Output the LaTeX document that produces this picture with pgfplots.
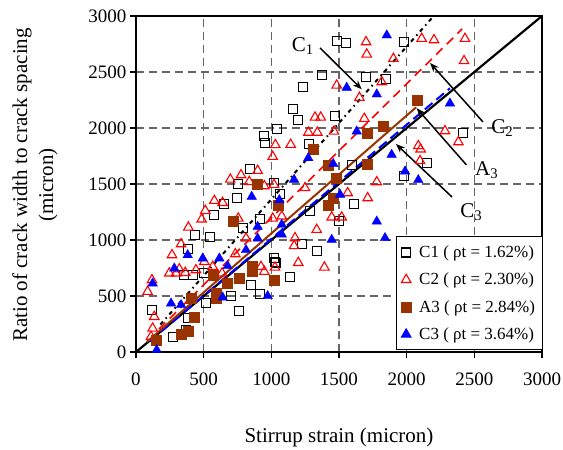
\documentclass[border=0pt]{standalone}
\usepackage{fontspec}
\setmainfont{Liberation Serif}
\usepackage{pgfplots}
\pgfplotsset{compat=1.18}
\usetikzlibrary{arrows.meta}
\definecolor{brn}{RGB}{153,51,0}
\begin{document}
\begin{tikzpicture}
\begin{axis}[
  scale only axis, width=406pt, height=336pt,
  xmin=0, xmax=3000, ymin=0, ymax=3000,
  xtick={0,500,...,3000}, ytick={0,500,...,3000},
  /pgf/number format/assume math mode=true,
  /pgf/number format/1000 sep={},
  tick label style={font=\fontsize{19}{22}\selectfont},
  xticklabel style={yshift=-11pt},
  tick align=outside, major tick length=6pt,
  tick style={black, line width=1.2pt},
  tick pos=left,
  grid=major,
  major grid style={black!60, line width=1.4pt, dash pattern=on 8pt off 5pt},
  axis line style={black, line width=1.3pt},
  xlabel={Stirrup strain (micron)},
  ylabel={Ratio of crack width to crack spacing\\(micron)},
  label style={font=\fontsize{21}{26}\selectfont},
  xlabel style={at={(axis description cs:0.5,-0.253)}, anchor=center},
  ylabel style={at={(axis description cs:-0.249,0.497)}, anchor=center, align=center},
  legend style={at={(1,0)}, anchor=south east, xshift=0.5pt, yshift=1.5pt,
    draw=black, line width=1pt, fill=white,
    font=\fontsize{17}{19}\selectfont, row sep=10pt, inner xsep=5pt, inner ysep=7pt,
    /tikz/every odd column/.append style={column sep=6pt}},
  legend cell align=left,
]
\addplot[only marks, mark=square, mark size=4.5pt, black, mark options={line width=1.1pt}] coordinates {
(382,917)(116,375)(271,137)(357,688)(419,688)(517,440)(387,301)(370,196)(505,708)(850,598)(702,500)(764,366)(916,515)(1022,837)(1035,792)(944,1929)(956,1869)(845,1634)(756,1500)(746,1372)(653,1321)(574,1223)(438,1042)(549,1030)(1022,1506)(916,1185)(788,1104)(1483,2777)(1552,2756)(1983,2768)(1372,2470)(1236,2369)(1700,2458)(1848,2434)(1162,2167)(1199,2072)(1471,2107)(1040,1994)(1281,1857)(1594,1673)(1064,1411)(1286,1256)(1613,1322)(1502,1173)(1983,1569)(1229,964)(1335,905)(1027,806)(1138,667)(2419,1953)(2148,1690)
};
\addlegendentry{C1 ( ρt = 1.62\%)}
\addplot[only marks, mark=triangle, mark size=5.5pt, red, mark options={line width=1.1pt}] coordinates {
(1030,1849)(1010,1744)(899,1619)(776,1580)(697,1541)(837,1520)(948,1482)(579,1351)(640,1333)(512,1262)(485,1185)(387,1113)(333,964)(756,1193)(813,1015)(1010,1193)(266,866)(246,703)(296,703)(364,708)(443,732)(505,806)(567,762)(636,703)(118,643)(86,539)(135,315)(123,211)(111,137)(924,762)(948,717)(734,875)(1700,2768)(1705,2658)(1902,2619)(1483,2381)(1816,2411)(1651,2271)(1323,2095)(1365,2095)(1687,2084)(1274,1960)(1340,1960)(1463,1970)(1143,1852)(1020,1494)(1249,1465)(1564,1420)(1712,1375)(1779,1518)(1077,1212)(1335,1092)(1175,1018)(1446,1203)(1520,1203)(1168,947)(1199,797)(1392,756)(1027,756)(2111,2798)(2202,2786)(2431,2798)(2424,2599)(2283,1973)(2382,1875)(2086,1840)(2103,1810)(2099,1706)(320,740)
};
\addlegendentry{C2 ( ρt = 2.30\%)}
\addplot[only marks, mark=square*, mark size=5pt, brn, mark options={draw=brn, fill=brn}] coordinates {
(894,1500)(719,1164)(567,688)(862,762)(862,717)(764,658)(677,613)(591,523)(591,479)(406,479)(431,315)(385,185)(335,160)(148,107)(1022,643)(1828,2018)(1705,1955)(1310,1807)(1421,1667)(1705,1673)(1483,1554)(1458,1375)(1421,1315)(1052,1310)(2079,2250)
};
\addlegendentry{A3 ( ρt = 2.84\%)}
\addplot[only marks, mark=triangle*, mark size=5.5pt, blue, mark options={draw=blue, fill=blue}] coordinates {
(899,1119)(899,1015)(855,1387)(1059,1357)(153,18)(123,613)(283,747)(382,866)(259,434)(333,420)(493,836)(616,836)(677,768)(813,911)(640,488)(973,500)(1853,2828)(1557,2361)(1779,2301)(1273,1732)(1458,1679)(1168,1539)(1889,1762)(1988,1613)(1508,1405)(1077,1138)(1077,1050)(1779,1166)(1840,1018)(1446,1003)(1631,1970)(2320,2220)(2086,1536)
};
\addlegendentry{C3 ( ρt = 3.64\%)}
% fitted lines
\addplot[forget plot, black, line width=2.2pt] coordinates {(0,0) (3000,3000)};
\addplot[forget plot, blue, line width=2pt, dash pattern=on 10pt off 5pt] coordinates {(100,95) (2320,2355)};
\addplot[forget plot, brn, line width=2pt] coordinates {(80,90) (2070,2185)};
\addplot[forget plot, red, line width=1.6pt, dash pattern=on 9pt off 6pt] coordinates {(170,205) (2410,2885)};
\addplot[forget plot, black, line width=2pt, dash pattern=on 4pt off 4pt on 1.5pt off 4pt] coordinates {(180,245) (2200,3000)};
% thicker left/bottom spines
\draw[black, line width=2.4pt] (rel axis cs:0,1) -- (rel axis cs:0,0) -- (rel axis cs:1,0);
% annotations
\draw[line width=1.5pt, -{Stealth[length=9pt,width=7pt]}] (axis cs:1360,2715) -- (axis cs:1668,2346);
\node[anchor=east, font=\fontsize{21}{24}\selectfont] at (axis cs:1340,2735) {C\textsubscript{1}};
\draw[line width=1.5pt, -{Stealth[length=9pt,width=7pt]}] (axis cs:2564,2054) -- (axis cs:2173,2581);
\node[anchor=west, font=\fontsize{21}{24}\selectfont] at (axis cs:2600,2000) {C\textsubscript{2}};
\draw[line width=1.5pt, -{Stealth[length=9pt,width=7pt]}] (axis cs:2442,1670) -- (axis cs:2074,2176);
\node[anchor=west, font=\fontsize{21}{24}\selectfont] at (axis cs:2480,1620) {A\textsubscript{3}};
\draw[line width=1.5pt, -{Stealth[length=9pt,width=7pt]}] (axis cs:2335,1384) -- (axis cs:1921,1857);
\node[anchor=west, font=\fontsize{21}{24}\selectfont] at (axis cs:2370,1250) {C\textsubscript{3}};
\end{axis}
\pgfresetboundingbox
\path[use as bounding box] ([shift={(-136pt,-98pt)}]current axis.south west) rectangle ([shift={(427pt,352pt)}]current axis.south west);
\end{tikzpicture}
\end{document}
